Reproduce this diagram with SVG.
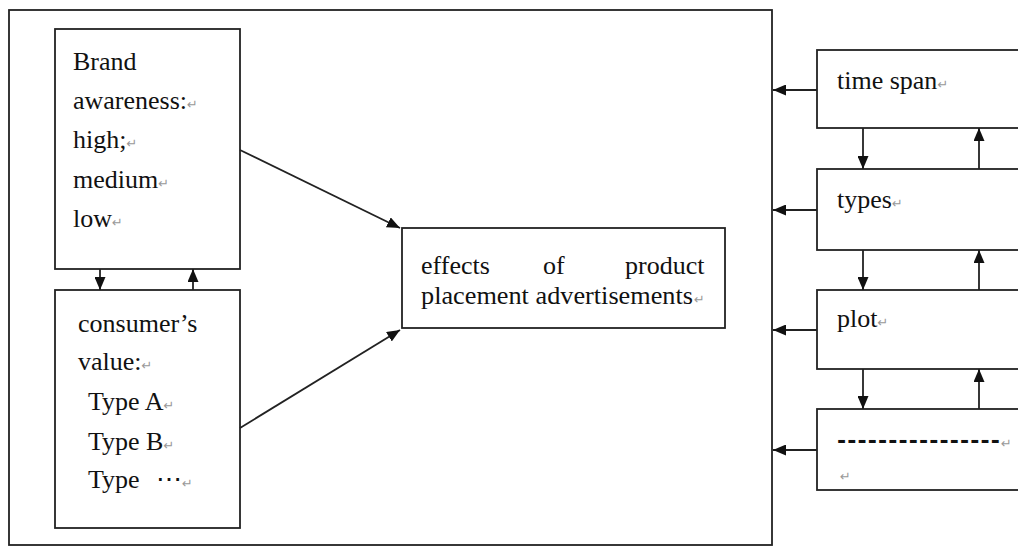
<svg xmlns="http://www.w3.org/2000/svg" width="1018" height="548" viewBox="0 0 1018 548">
<defs>
<marker id="ah" viewBox="0 0 13 11" refX="13" refY="5.5" markerWidth="13" markerHeight="11" markerUnits="userSpaceOnUse" orient="auto"><path d="M0,0 L13,5.5 L0,11 z" fill="#111"/></marker>
<style>
.box{fill:#fff;stroke:#222;stroke-width:1.8}
.t{font-family:"Liberation Serif","Times New Roman",serif;font-size:26px;fill:#111}
.r{font-family:"DejaVu Sans",sans-serif;font-size:13px;fill:#999}
.c{stroke:#222;stroke-width:1.8;fill:none;marker-end:url(#ah)}
</style>
</defs>
<rect width="1018" height="548" fill="#fff"/>
<g id="frame"><rect x="9" y="10" width="763" height="535" class="box"/></g>
<g id="brand">
<rect x="55" y="29" width="185" height="240" class="box"/>
<text class="t" x="73" y="70">Brand</text>
<text class="t" x="73" y="109">awareness:<tspan class="r">↵</tspan></text>
<text class="t" x="73" y="148">high;<tspan class="r">↵</tspan></text>
<text class="t" x="73" y="188">medium<tspan class="r">↵</tspan></text>
<text class="t" x="73" y="227">low<tspan class="r">↵</tspan></text>
</g>
<g id="consumer">
<rect x="55" y="290" width="185" height="238" class="box"/>
<text class="t" x="78" y="332">consumer’s</text>
<text class="t" x="78" y="370">value:<tspan class="r">↵</tspan></text>
<text class="t" x="88" y="410">Type A<tspan class="r">↵</tspan></text>
<text class="t" x="88" y="450">Type B<tspan class="r">↵</tspan></text>
<text class="t" x="88" y="488">Type<tspan x="156">⋯</tspan><tspan class="r">↵</tspan></text>
</g>
<g id="effects">
<rect x="402" y="228" width="323" height="100" class="box"/>
<text class="t" x="421" y="274">effects</text>
<text class="t" x="543" y="274">of</text>
<text class="t" x="625" y="274">product</text>
<text class="t" x="421" y="304" textLength="272" lengthAdjust="spacingAndGlyphs">placement advertisements</text>
<text class="r" x="694" y="304">↵</text>
</g>
<g id="timespan">
<rect x="817" y="50" width="220" height="78" class="box"/>
<text class="t" x="837" y="89">time span<tspan class="r">↵</tspan></text>
</g>
<g id="types">
<rect x="817" y="169" width="220" height="81" class="box"/>
<text class="t" x="837" y="208">types<tspan class="r">↵</tspan></text>
</g>
<g id="plot">
<rect x="817" y="290" width="220" height="79" class="box"/>
<text class="t" x="837" y="327">plot<tspan class="r">↵</tspan></text>
</g>
<g id="more">
<rect x="817" y="409" width="220" height="81" class="box"/>
<text x="837" y="448" font-family="'DejaVu Sans',sans-serif" font-size="22" font-weight="bold" fill="#111" textLength="163" lengthAdjust="spacing">----------------</text>
<text class="r" x="1001" y="448">↵</text>
<text class="r" x="840" y="481" font-size="9">↵</text>
</g>
<g id="connectors">
<line class="c" x1="100" y1="269" x2="100" y2="290"/>
<line class="c" x1="193" y1="290" x2="193" y2="269"/>
<line class="c" x1="240" y1="150" x2="400" y2="228"/>
<line class="c" x1="240" y1="428" x2="400" y2="330"/>
<line class="c" x1="817" y1="90" x2="773" y2="90"/>
<line class="c" x1="817" y1="210" x2="773" y2="210"/>
<line class="c" x1="817" y1="330" x2="773" y2="330"/>
<line class="c" x1="817" y1="450" x2="773" y2="450"/>
<line class="c" x1="863" y1="128" x2="863" y2="169"/>
<line class="c" x1="863" y1="250" x2="863" y2="290"/>
<line class="c" x1="863" y1="369" x2="863" y2="409"/>
<line class="c" x1="979" y1="169" x2="979" y2="128"/>
<line class="c" x1="979" y1="290" x2="979" y2="250"/>
<line class="c" x1="979" y1="409" x2="979" y2="369"/>
</g>
</svg>
